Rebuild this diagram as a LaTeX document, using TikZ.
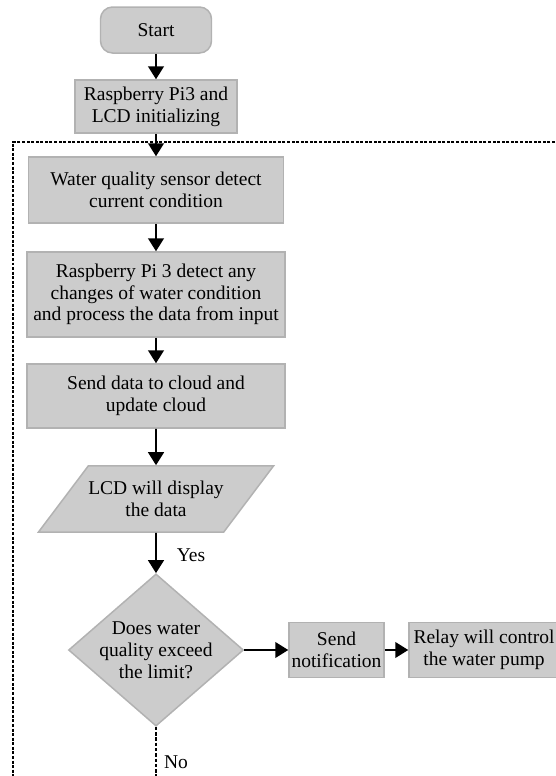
\documentclass[tikz,border=0pt]{standalone}
\usepackage{fontspec}
\setmainfont{Liberation Serif}
\newfontfamily\flowfont{Liberation Serif}
\usepackage{xcolor}
\usepackage{tikz}
\usetikzlibrary{shapes.geometric,arrows.meta}
\definecolor{boxfill}{RGB}{204,204,204}
\definecolor{boxline}{RGB}{178,178,178}

\begin{document}
\begin{tikzpicture}[
            procbox/.style={draw=boxline,line width=.85pt,fill=boxfill,align=center,inner sep=1pt,font=\flowfont\fontsize{11.1}{12.4}\selectfont},
            startbox/.style={procbox,rounded corners=.24cm},
            iobox/.style={procbox,trapezium,trapezium left angle=53,trapezium right angle=127,inner xsep=0pt,inner ysep=8.7pt},
            decbox/.style={procbox,diamond,inner sep=-2.5pt},
            flow/.style={black,line width=1.1pt,-{Triangle[width=9pt,length=7.4pt]}},
            frameline/.style={black,line width=.75pt,dash pattern=on 1.7pt off .9pt},
            noline/.style={black,line width=1.6pt,dash pattern=on 2pt off 1pt},
            labeltext/.style={font=\flowfont\fontsize{11.1}{12.4}\selectfont}]

                    \useasboundingbox (0,0) rectangle (11.1,-15.52);

                    \node[startbox,minimum width=2.22cm,minimum height=.92cm] (start) at (3.12,-.60){Start};
                    \node[procbox,minimum width=3.24cm,minimum height=1.06cm] (init) at (3.12,-2.13){Raspberry Pi3 and\\LCD initializing};
                    \node[procbox,minimum width=5.10cm,minimum height=1.32cm] (sensor) at (3.12,-3.80){Water quality sensor detect\\current condition};
                    \node[procbox,minimum width=5.16cm,minimum height=1.70cm] (process) at (3.12,-5.89){Raspberry Pi 3 detect any\\changes of water condition\\and process the data from input};
                    \node[procbox,minimum width=5.16cm,minimum height=1.28cm] (cloud) at (3.12,-7.92){Send data to cloud and\\update cloud};
                    \node[iobox] (lcd) at (3.12,-9.98){LCD will display\\the data};
                    \node[decbox,minimum width=3.50cm,minimum height=3.04cm] (check) at (3.12,-13.0){Does water\\quality exceed\\the limit?};
                    \node[procbox,minimum width=1.90cm,minimum height=1.10cm] (notify) at (6.73,-13.0){Send\\notification};
                    \node[procbox,minimum width=3.0cm,minimum height=1.10cm] (relay) at (9.68,-13.0){Relay will control\\the water pump};

                    \node[labeltext] (yes) at (3.82,-11.10){Yes};
                    \node[labeltext] (no) at (3.52,-15.24){No};

                    % dashed loop frame
                    \coordinate (frametop) at (11.1,-2.84);
                    \coordinate (framebot) at (.26,-15.52);
                    \coordinate (loopend) at (3.12,-15.52);
                    \draw[frameline] (frametop) -| (framebot);

                    \draw[flow] (start)--(init);
                    \draw[flow] (init)--(sensor);
                    \draw[flow] (sensor)--(process);
                    \draw[flow] (process)--(cloud);
                    \draw[flow] (cloud)--(lcd);
                    \draw[flow] (lcd)--(check);
                    \draw[flow,line width=.9pt] (check)--(notify);
                    \draw[flow,line width=.9pt] (notify)--(relay);
                    \draw[noline] (check.south)--(loopend);

                    \end{tikzpicture}
\end{document}
